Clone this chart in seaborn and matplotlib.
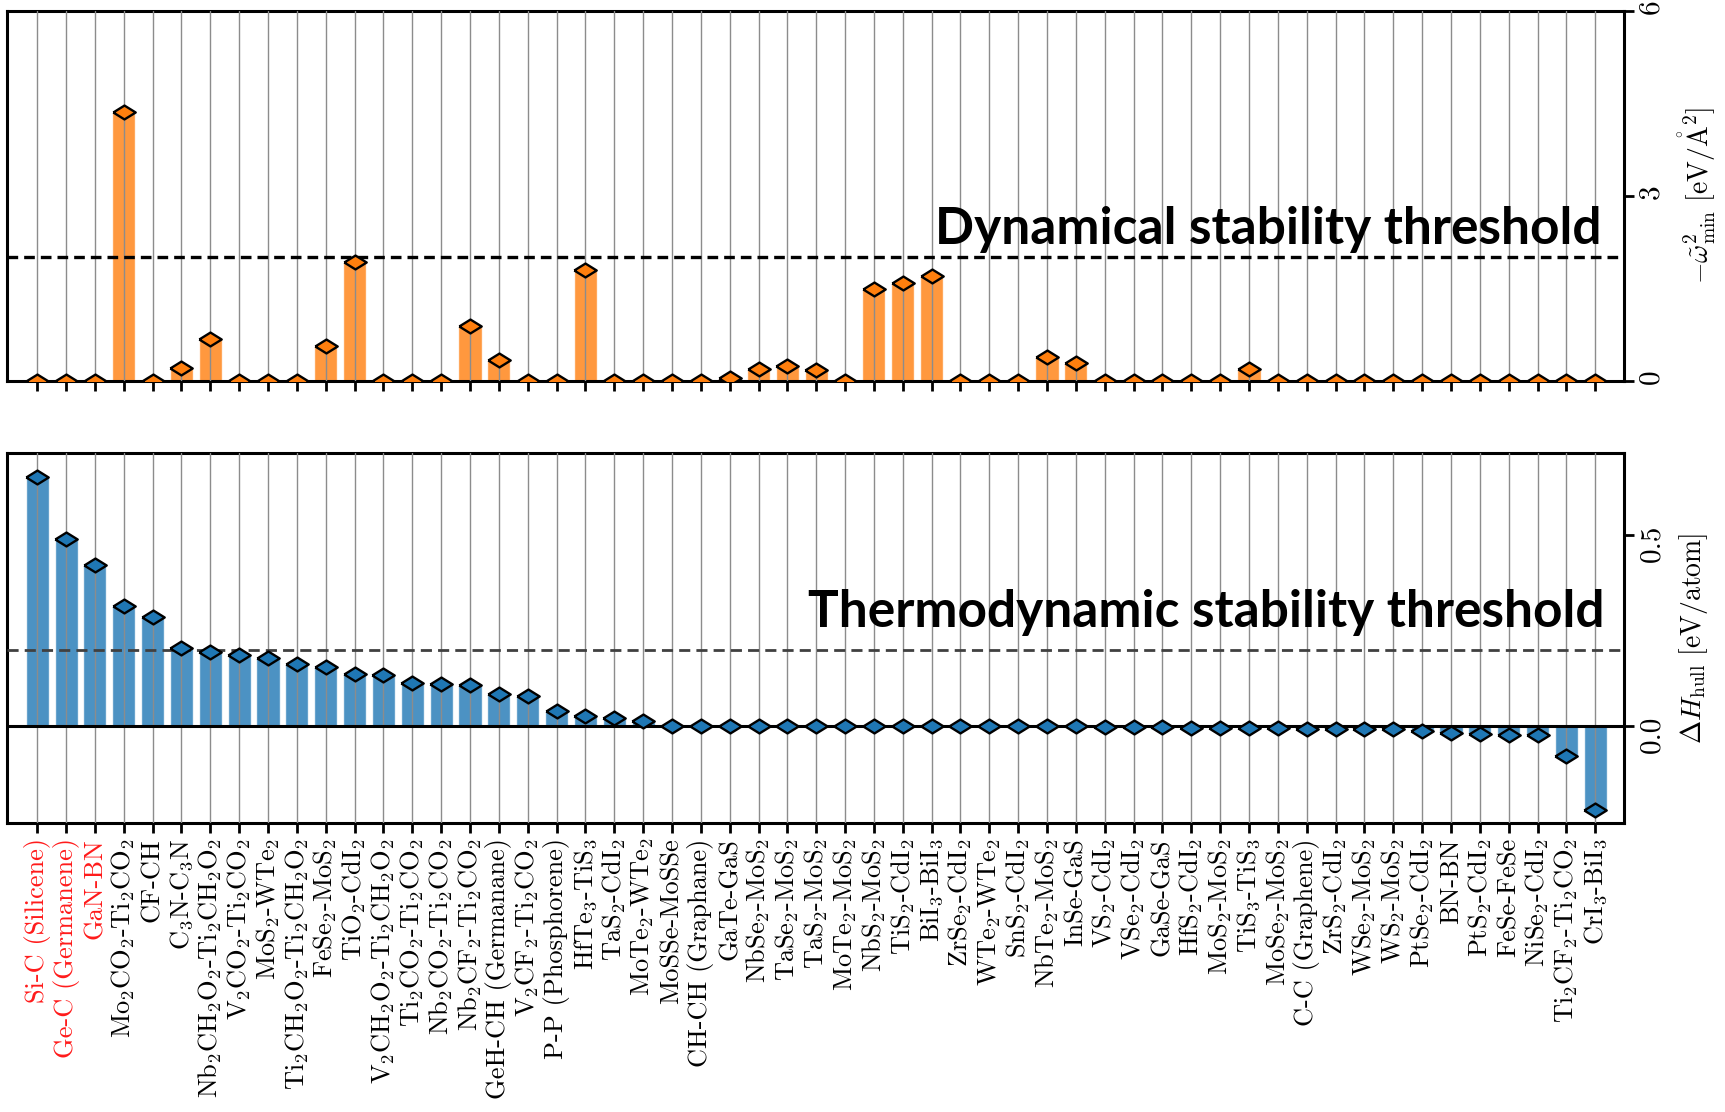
import numpy as np
import pandas as pd
import matplotlib
matplotlib.use('Agg')
import matplotlib.pyplot as plt
import seaborn as sns
from matplotlib.markers import MarkerStyle
from matplotlib.ticker import FormatStrFormatter

# ========== Data ==========
pairs = [
    'Si-C (Silicene)', 'Ge-C (Germanene)', 'GaN-BN',
    'Mo$_2$CO$_2$-Ti$_2$CO$_2$', 'CF-CH', 'C$_3$N-C$_3$N',
    'Nb$_2$CH$_2$O$_2$-Ti$_2$CH$_2$O$_2$', 'V$_2$CO$_2$-Ti$_2$CO$_2$',
    'MoS$_2$-WTe$_2$', 'Ti$_2$CH$_2$O$_2$-Ti$_2$CH$_2$O$_2$',
    'FeSe$_2$-MoS$_2$', 'TiO$_2$-CdI$_2$',
    'V$_2$CH$_2$O$_2$-Ti$_2$CH$_2$O$_2$', 'Ti$_2$CO$_2$-Ti$_2$CO$_2$',
    'Nb$_2$CO$_2$-Ti$_2$CO$_2$', 'Nb$_2$CF$_2$-Ti$_2$CO$_2$',
    'GeH-CH (Germanane)', 'V$_2$CF$_2$-Ti$_2$CO$_2$', 'P-P (Phosphorene)',
    'HfTe$_3$-TiS$_3$', 'TaS$_2$-CdI$_2$', 'MoTe$_2$-WTe$_2$',
    'MoSSe-MoSSe', 'CH-CH (Graphane)', 'GaTe-GaS', 'NbSe$_2$-MoS$_2$',
    'TaSe$_2$-MoS$_2$', 'TaS$_2$-MoS$_2$', 'MoTe$_2$-MoS$_2$',
    'NbS$_2$-MoS$_2$', 'TiS$_2$-CdI$_2$', 'BiI$_3$-BiI$_3$',
    'ZrSe$_2$-CdI$_2$', 'WTe$_2$-WTe$_2$', 'SnS$_2$-CdI$_2$',
    'NbTe$_2$-MoS$_2$', 'InSe-GaS', 'VS$_2$-CdI$_2$', 'VSe$_2$-CdI$_2$',
    'GaSe-GaS', 'HfS$_2$-CdI$_2$', 'MoS$_2$-MoS$_2$', 'TiS$_3$-TiS$_3$',
    'MoSe$_2$-MoS$_2$', 'C-C (Graphene)', 'ZrS$_2$-CdI$_2$',
    'WSe$_2$-MoS$_2$', 'WS$_2$-MoS$_2$', 'PtSe$_2$-CdI$_2$', 'BN-BN',
    'PtS$_2$-CdI$_2$', 'FeSe-FeSe', 'NiSe$_2$-CdI$_2$',
    'Ti$_2$CF$_2$-Ti$_2$CO$_2$', 'CrI$_3$-BiI$_3$',
]

# -omega^2_min [eV/A^2]
omega2 = [
    0.0, 0.0, 0.0, 4.36, 0.0, 0.20, 0.68, 0.0, 0.0, 0.0,
    0.57, 1.93, 0.0, 0.0, 0.0, 0.88, 0.33, 0.0, 0.0, 1.80,
    0.0, 0.0, 0.0, 0.0, 0.05, 0.19, 0.245, 0.18, 0.0, 1.49,
    1.59, 1.70, 0.0, 0.0, 0.0, 0.38, 0.28, 0.0, 0.0, 0.0,
    0.0, 0.0, 0.19, 0.0, 0.0, 0.0, 0.0, 0.0, 0.0, 0.0,
    0.0, 0.0, 0.0, 0.0, 0.0,
]

# Delta H_hull [eV/atom]
dH = [
    0.651, 0.489, 0.422, 0.313, 0.286, 0.205, 0.193, 0.186, 0.178, 0.162,
    0.154, 0.136, 0.133, 0.113, 0.111, 0.107, 0.083, 0.080, 0.039, 0.027,
    0.021, 0.014, 0.0, 0.0, 0.0, 0.0, 0.0, 0.0, 0.0, 0.0,
    0.0, 0.0, 0.0, 0.0, 0.0, 0.0, 0.0, -0.002, -0.003, -0.003,
    -0.004, -0.004, -0.004, -0.005, -0.006, -0.006, -0.007, -0.008, -0.013, -0.018,
    -0.020, -0.023, -0.024, -0.078, -0.218,
]

n_red = 3                  # first labels highlighted in red
dyn_threshold = 2.0
thermo_threshold = 0.2

df = pd.DataFrame({'pair': pairs, 'omega2': omega2, 'dH': dH})

# ========== Style ==========
sns.set_theme(style='white')
plt.rcParams['font.family'] = ['cmr10', 'DejaVu Serif']
plt.rcParams['mathtext.fontset'] = 'cm'
plt.rcParams['axes.formatter.use_mathtext'] = True
plt.rcParams['axes.unicode_minus'] = False
plt.rcParams['text.color'] = 'black'
plt.rcParams['axes.labelcolor'] = 'black'
plt.rcParams['xtick.color'] = 'black'
plt.rcParams['ytick.color'] = 'black'

diamond = MarkerStyle([(-1, 0), (0, 0.62), (1, 0), (0, -0.62), (-1, 0)])

fig, (ax1, ax2) = plt.subplots(2, 1, figsize=(17.25, 11.12), dpi=100, sharex=True)
fig.subplots_adjust(left=0.004, right=0.9415, top=0.99, bottom=0.26, hspace=0.197)

panels = [
    (ax1, 'omega2', 'tab:orange'),
    (ax2, 'dH', 'tab:blue'),
]
for ax, col, c in panels:
    sns.barplot(data=df, x='pair', y=col, color=c, saturation=1, alpha=0.8,
                width=0.8, errorbar=None, ax=ax)
    sns.scatterplot(x=np.arange(len(df)), y=df[col], marker=diamond, s=260,
                    color=c, edgecolor='black', linewidth=1.7, ax=ax,
                    zorder=4, legend=False)
    ax.grid(True, axis='x', color='#8c8c8c', lw=1.0)
    ax.grid(False, axis='y')
    ax.set_axisbelow(False)
    for s in ax.spines.values():
        s.set_color('black')
        s.set_linewidth(2.2)
    ax.yaxis.tick_right()
    ax.yaxis.set_label_position('right')
    ax.tick_params(axis='y', which='major', direction='out', length=7, width=2,
                   labelsize=21, labelrotation=90, right=True, left=False, pad=4)
    ax.tick_params(axis='x', which='major', direction='out', length=7, width=2,
                   bottom=True, pad=4)
    ax.set_xlabel('')

ax2.set_xlim(-1.05, len(df))

# Top panel: dynamical stability
ax1.set_ylim(0, 6)
ax1.set_yticks([0, 3, 6])
ax1.axhline(dyn_threshold, color='black', ls='--', lw=2.4, dashes=(3.2, 1.8), zorder=3)
ax1.text(0.986, 0.41, 'Dynamical stability threshold', transform=ax1.transAxes,
         ha='right', va='center', fontsize=37, fontweight='bold', family='Lato',
         color='black', zorder=5)
ax1.set_ylabel(r'$-\tilde{\omega}^2_{\mathrm{min}}\ [\mathrm{eV}/\mathring{\mathrm{A}}^2]$',
               fontsize=20, labelpad=8)

# Bottom panel: thermodynamic stability
ax2.set_ylim(-0.252, 0.712)
ax2.set_yticks([0.0, 0.5])
ax2.yaxis.set_major_formatter(FormatStrFormatter('%.1f'))
ax2.axhline(0, color='black', lw=2.2, zorder=3)
ax2.axhline(thermo_threshold, color='#404040', ls='--', lw=2.0, dashes=(4, 2.2), zorder=3)
ax2.text(0.988, 0.57, 'Thermodynamic stability threshold', transform=ax2.transAxes,
         ha='right', va='center', fontsize=37, fontweight='bold', family='Lato',
         color='black', zorder=5)
ax2.set_ylabel(r'$\Delta H_{\mathrm{hull}}\ [\mathrm{eV/atom}]$', fontsize=20, labelpad=8)

ax2.set_xticks(np.arange(len(pairs)))
ax2.set_xticklabels(pairs, rotation=90, fontsize=19, va='top', ha='center')
for i, lab in enumerate(ax2.get_xticklabels()):
    if i < n_red:
        lab.set_color('#ff1a1a')
ax1.tick_params(axis='x', labelbottom=False)

plt.savefig('out.png', dpi=100)
